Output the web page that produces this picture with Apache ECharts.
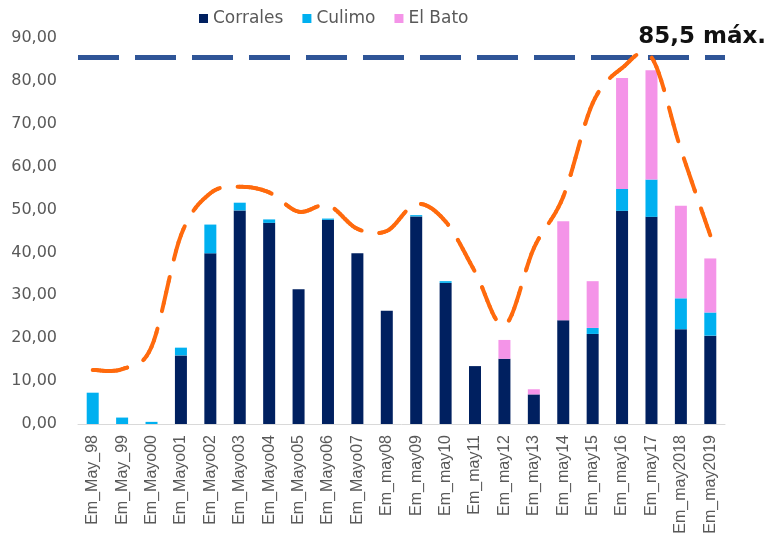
<!DOCTYPE html>
<html>
<head>
<meta charset="utf-8">
<script src="https://cdn.jsdelivr.net/npm/echarts@6/dist/echarts.min.js"></script>
<style>
  html, body { margin: 0; padding: 0; background: #fff; }
  #chart { width: 777px; height: 540px; }
</style>
</head>
<body>
<div id="chart"></div>
<script>
// categorias (emisiones)
const categories = ['Em_May_98', 'Em_May_99', 'Em_Mayo00', 'Em_Mayo01', 'Em_Mayo02', 'Em_Mayo03',
  'Em_Mayo04', 'Em_Mayo05', 'Em_Mayo06', 'Em_Mayo07', 'Em_may08', 'Em_may09', 'Em_may10',
  'Em_may11', 'Em_may12', 'Em_may13', 'Em_may14', 'Em_may15', 'Em_may16', 'Em_may17',
  'Em_may2018', 'Em_may2019'];

const corrales = [0, 0, 0, 16.0, 39.8, 49.8, 46.9, 31.4, 47.6, 39.8, 26.4, 48.4, 32.9,
  13.5, 15.2, 6.9, 24.2, 21.0, 49.7, 48.3, 22.1, 20.6];
const culimo = [7.3, 1.5, 0.5, 1.8, 6.7, 1.8, 0.8, 0, 0.3, 0, 0, 0.3, 0.4,
  0, 0, 0, 0, 1.4, 5.1, 8.7, 7.2, 5.4];
const elBato = [0, 0, 0, 0, 0, 0, 0, 0, 0, 0, 0, 0, 0,
  0, 4.4, 1.2, 23.1, 10.9, 25.9, 25.5, 21.6, 12.6];

// curva envolvente (linea naranja)
const envolvente = [12.6, 12.8, 18, 44, 53.8, 55.3, 54, 49.5, 51, 45.5, 45, 51.3, 47.2,
  35.5, 23, 41, 53, 74.8, 83, 85.5, 64, 44];

const maximo = 85.5;
const yTicks = [0, 90, 10]; // min, max, intervalo

let chart = echarts.init(document.getElementById('chart'));

// curva suave (catmull-rom) cortada en guiones con segmentos sueltos
const renderCurva = (params, api) => {
  if (params.dataIndex !== 0) return null;
  const p = envolvente.map((v, i) => api.coord([i, v]));
  const n = p.length;
  const pasos = 12;
  let dense = [p[0]];
  for (let i = 0; i < n - 1; i++) {
    const p0 = p[Math.max(i - 1, 0)], p1 = p[i], p2 = p[i + 1], p3 = p[Math.min(i + 2, n - 1)];
    for (let s = 1; s <= pasos; s++) {
      const t = s / pasos, t2 = t * t, t3 = t2 * t;
      dense.push([0, 1].map(k => 0.5 * (2 * p1[k] + (p2[k] - p0[k]) * t
        + (2 * p0[k] - 5 * p1[k] + 4 * p2[k] - p3[k]) * t2
        + (3 * p1[k] - p0[k] - 3 * p2[k] + p3[k]) * t3)));
    }
  }

  const dash = 35, gap = 18, periodo = dash + gap;
  let kids = [];
  let acum = 0;
  for (let j = 0; j < dense.length - 1; j++) {
    const a = dense[j], b = dense[j + 1];
    const len = Math.hypot(b[0] - a[0], b[1] - a[1]);
    const s0 = acum, s1 = acum + len;
    acum = s1;
    if (len <= 0) continue;
    const at = s => [a[0] + (b[0] - a[0]) * (s - s0) / len, a[1] + (b[1] - a[1]) * (s - s0) / len];
    let k = Math.floor(s0 / periodo);
    while (k * periodo < s1) {
      const on0 = Math.max(s0, k * periodo), on1 = Math.min(s1, k * periodo + dash);
      if (on1 > on0) {
        const q0 = at(on0), q1 = at(on1);
        kids.push({
          type: 'line',
          shape: { x1: q0[0], y1: q0[1], x2: q1[0], y2: q1[1] },
          style: { stroke: '#FF6A0D', lineWidth: 4, lineCap: 'round' }
        });
      }
      k++;
    }
  }
  return { type: 'group', children: kids };
};

let option = {
  animation: false,
  color: ['#002060', '#00B0F0', '#F494E8'],
  legend: {
    data: ['Corrales', 'Culimo', 'El Bato'],
    left: 194,
    top: 5,
    itemWidth: 9,
    itemHeight: 9,
    itemGap: 19,
    icon: 'rect',
    textStyle: { fontFamily: 'DejaVu Sans', fontSize: 17, color: '#595959' }
  },
  grid: { left: 78, right: 52, top: 38, bottom: 116 },
  xAxis: {
    type: 'category',
    data: categories,
    axisTick: { show: false },
    axisLine: { lineStyle: { color: '#d9d9d9', width: 1 } },
    axisLabel: {
      rotate: 90,
      margin: 11,
      fontFamily: 'Liberation Sans',
      fontSize: 16,
      color: '#595959'
    }
  },
  yAxis: {
    type: 'value',
    min: yTicks[0],
    max: yTicks[1],
    interval: yTicks[2],
    splitLine: { show: false },
    axisLine: { show: false },
    axisTick: { show: false },
    axisLabel: {
      margin: 21,
      fontFamily: 'DejaVu Sans',
      fontSize: 16,
      color: '#595959',
      formatter: v => v.toFixed(2).replace('.', ',')
    }
  },
  graphic: [{
    type: 'text',
    right: 11,
    top: 26,
    style: {
      text: '85,5 máx.',
      fontFamily: 'DejaVu Sans',
      fontWeight: 'bold',
      fontSize: 23,
      fill: '#111'
    }
  }],
  series: [
    {
      name: 'Corrales', type: 'bar', stack: 'total', barWidth: 12,
      data: corrales
    },
    {
      name: 'Culimo', type: 'bar', stack: 'total', barWidth: 12,
      data: culimo
    },
    {
      name: 'El Bato', type: 'bar', stack: 'total', barWidth: 12,
      data: elBato,
      markLine: {
        silent: true,
        symbol: 'none',
        label: { show: false },
        lineStyle: { color: '#2F5597', width: 5, type: [41, 16] },
        data: [{ yAxis: maximo }]
      }
    },
    {
      name: 'Envolvente', type: 'custom',
      z: 5,
      silent: true,
      encode: { x: 0, y: 1 },
      data: envolvente.map((v, i) => [i, v]),
      renderItem: renderCurva
    }
  ]
};

chart.setOption(option);
</script>
</body>
</html>
